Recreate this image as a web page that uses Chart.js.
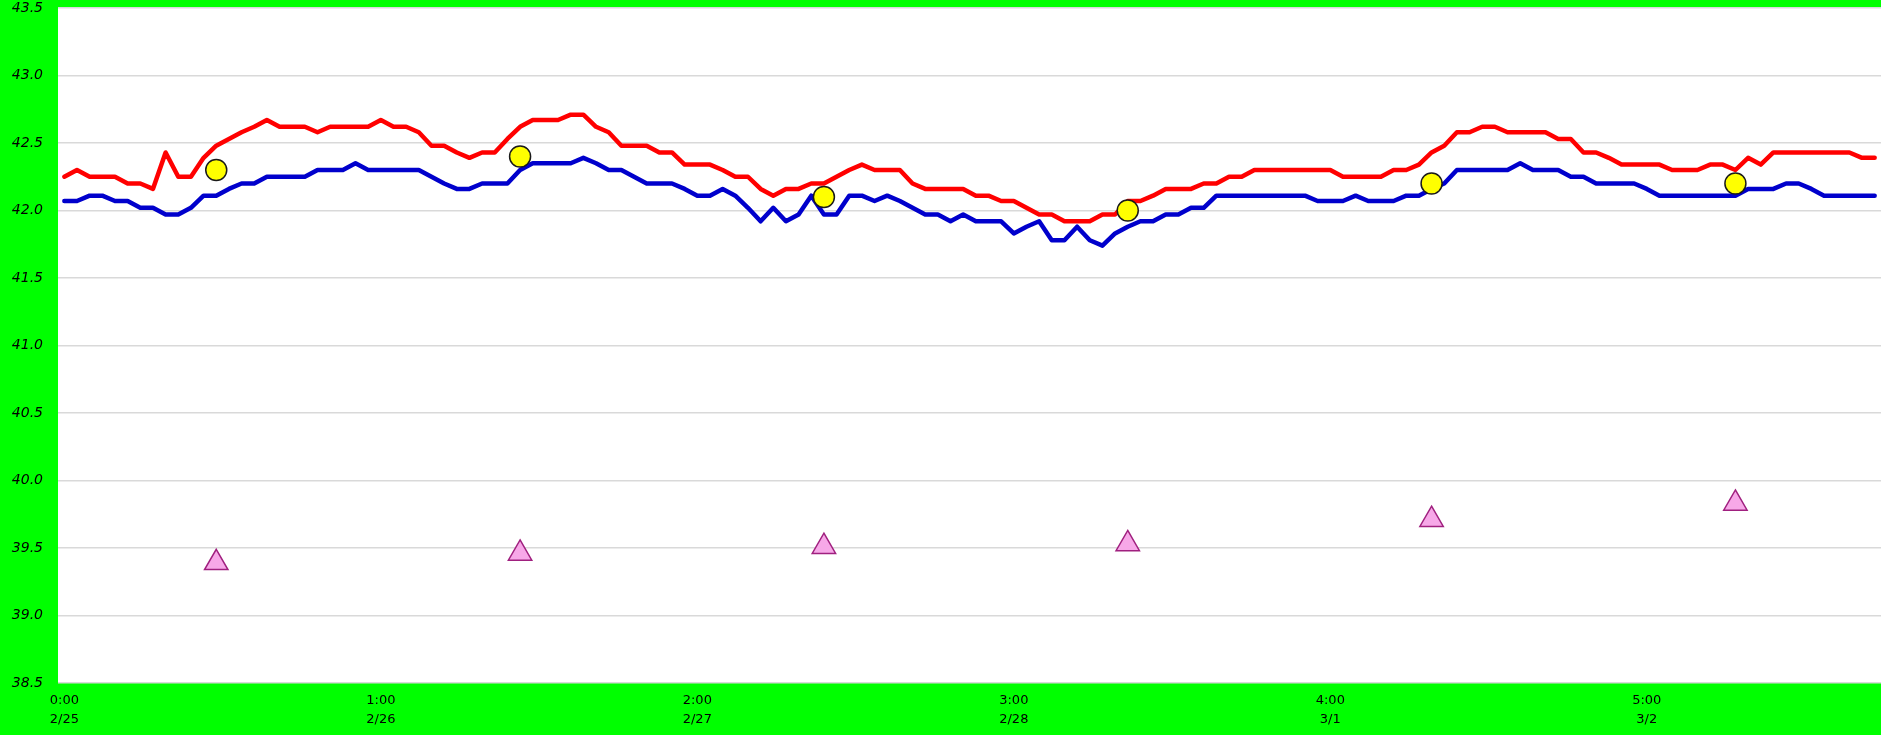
<!DOCTYPE html>
<html>
<head>
<meta charset="utf-8">
<script src="https://cdn.jsdelivr.net/npm/chart.js@4.4.1/dist/chart.umd.min.js"></script>
<style>
    html, body { margin: 0; padding: 0; background: #00FF00; overflow: hidden; }
    .chart-container { position: relative; width: 1881px; height: 735px; }
</style>
</head>
<body>
<div class="chart-container">
    <canvas id="tempChart"></canvas>
</div>
<script>
// Days and hourly categories (one point per hour, 6 days)
const days = ['2/25', '2/26', '2/27', '2/28', '3/1', '3/2'];
const categories = [];
days.forEach(day => {
    for (let h = 0; h < 24; h++) categories.push(h + ':00\n' + day);
});

// Red line (hourly)
const redSeries = [
    42.25, 42.30, 42.25, 42.25, 42.25, 42.20, 42.20, 42.16, 42.43, 42.25,
    42.25, 42.39, 42.48, 42.53, 42.58, 42.62, 42.67, 42.62, 42.62, 42.62,
    42.58, 42.62, 42.62, 42.62, 42.62, 42.67, 42.62, 42.62, 42.58, 42.48,
    42.48, 42.43, 42.39, 42.43, 42.43, 42.53, 42.62, 42.67, 42.67, 42.67,
    42.71, 42.71, 42.62, 42.58, 42.48, 42.48, 42.48, 42.43, 42.43, 42.34,
    42.34, 42.34, 42.30, 42.25, 42.25, 42.16, 42.11, 42.16, 42.16, 42.20,
    42.20, 42.25, 42.30, 42.34, 42.30, 42.30, 42.30, 42.20, 42.16, 42.16,
    42.16, 42.16, 42.11, 42.11, 42.07, 42.07, 42.02, 41.97, 41.97, 41.92,
    41.92, 41.92, 41.97, 41.97, 42.07, 42.07, 42.11, 42.16, 42.16, 42.16,
    42.20, 42.20, 42.25, 42.25, 42.30, 42.30, 42.30, 42.30, 42.30, 42.30,
    42.30, 42.25, 42.25, 42.25, 42.25, 42.30, 42.30, 42.34, 42.43, 42.48,
    42.58, 42.58, 42.62, 42.62, 42.58, 42.58, 42.58, 42.58, 42.53, 42.53,
    42.43, 42.43, 42.39, 42.34, 42.34, 42.34, 42.34, 42.30, 42.30, 42.30,
    42.34, 42.34, 42.30, 42.39, 42.34, 42.43, 42.43, 42.43, 42.43, 42.43,
    42.43, 42.43, 42.39, 42.39
];

// Blue line (hourly)
const blueSeries = [
    42.07, 42.07, 42.11, 42.11, 42.07, 42.07, 42.02, 42.02, 41.97, 41.97,
    42.02, 42.11, 42.11, 42.16, 42.20, 42.20, 42.25, 42.25, 42.25, 42.25,
    42.30, 42.30, 42.30, 42.35, 42.30, 42.30, 42.30, 42.30, 42.30, 42.25,
    42.20, 42.16, 42.16, 42.20, 42.20, 42.20, 42.30, 42.35, 42.35, 42.35,
    42.35, 42.39, 42.35, 42.30, 42.30, 42.25, 42.20, 42.20, 42.20, 42.16,
    42.11, 42.11, 42.16, 42.11, 42.02, 41.92, 42.02, 41.92, 41.97, 42.11,
    41.97, 41.97, 42.11, 42.11, 42.07, 42.11, 42.07, 42.02, 41.97, 41.97,
    41.92, 41.97, 41.92, 41.92, 41.92, 41.83, 41.88, 41.92, 41.78, 41.78,
    41.88, 41.78, 41.74, 41.83, 41.88, 41.92, 41.92, 41.97, 41.97, 42.02,
    42.02, 42.11, 42.11, 42.11, 42.11, 42.11, 42.11, 42.11, 42.11, 42.07,
    42.07, 42.07, 42.11, 42.07, 42.07, 42.07, 42.11, 42.11, 42.16, 42.20,
    42.30, 42.30, 42.30, 42.30, 42.30, 42.35, 42.30, 42.30, 42.30, 42.25,
    42.25, 42.20, 42.20, 42.20, 42.20, 42.16, 42.11, 42.11, 42.11, 42.11,
    42.11, 42.11, 42.11, 42.16, 42.16, 42.16, 42.20, 42.20, 42.16, 42.11,
    42.11, 42.11, 42.11, 42.11
];

// Daily noon readings
const noonIndex = [12, 36, 60, 84, 108, 132];
const circleValues = [42.30, 42.40, 42.10, 42.00, 42.20, 42.20];
const triangleValues = [39.39, 39.46, 39.51, 39.53, 39.71, 39.83];

// Y axis ticks
const yMin = 38.5;
const yMax = 43.5;
const yStep = 0.5;
const labelEvery = 25;

function sparse(values) {
    const arr = categories.map(() => null);
    noonIndex.forEach((idx, k) => { arr[idx] = values[k]; });
    return arr;
}

// Green page, white plot area
const backgroundPlugin = {
    id: 'background',
    beforeDraw(chart) {
        const { ctx, chartArea } = chart;
        ctx.save();
        ctx.fillStyle = '#00FF00';
        ctx.fillRect(0, 0, chart.width, chart.height);
        ctx.fillStyle = '#FFFFFF';
        ctx.fillRect(chartArea.left, chartArea.top, chartArea.right - chartArea.left, chartArea.bottom - chartArea.top);
        ctx.restore();
    }
};

const ctx = document.getElementById('tempChart').getContext('2d');
const tempChart = new Chart(ctx, {
    type: 'line',
    data: {
        labels: categories,
        datasets: [
            {
                label: 'Circle',
                data: sparse(circleValues),
                showLine: false,
                pointStyle: 'circle',
                pointRadius: 10.5,
                pointBackgroundColor: '#FFFF00',
                pointBorderColor: '#1a1a1a',
                pointBorderWidth: 1.5,
                order: 0
            },
            {
                label: 'Triangle',
                data: sparse(triangleValues),
                showLine: false,
                pointStyle: 'triangle',
                pointRadius: 13.5,
                pointBackgroundColor: '#F7A8E8',
                pointBorderColor: '#A0207F',
                pointBorderWidth: 1.5,
                order: 1
            },
            {
                label: 'Blue',
                data: blueSeries,
                borderColor: '#0000CC',
                borderWidth: 4.5,
                borderJoinStyle: 'round',
                borderCapStyle: 'round',
                pointRadius: 0,
                tension: 0,
                fill: false,
                order: 2
            },
            {
                label: 'Red',
                data: redSeries,
                borderColor: '#FF0000',
                borderWidth: 4.5,
                borderJoinStyle: 'round',
                borderCapStyle: 'round',
                pointRadius: 0,
                tension: 0,
                fill: false,
                order: 3
            }
        ]
    },
    options: {
        responsive: true,
        maintainAspectRatio: false,
        animation: false,
        devicePixelRatio: 1,
        layout: {
            autoPadding: false,
            padding: { top: 8, right: -3, bottom: 0, left: 0 }
        },
        plugins: {
            legend: { display: false },
            tooltip: { enabled: false }
        },
        scales: {
            x: {
                offset: true,
                grid: { display: false, drawTicks: false },
                border: { display: false },
                afterFit: function(scale) {
                    scale.height = 52;
                    scale.paddingLeft = 0;
                    scale.paddingRight = 0;
                },
                ticks: {
                    autoSkip: false,
                    maxRotation: 0,
                    minRotation: 0,
                    padding: 9,
                    color: '#000000',
                    font: { family: 'DejaVu Sans', size: 13, lineHeight: 1.4 },
                    callback: function(value, index) {
                        return index % labelEvery === 0 ? categories[index].split('\n') : '';
                    }
                }
            },
            y: {
                min: yMin,
                max: yMax,
                grid: {
                    color: '#D9D9D9',
                    lineWidth: 1.5,
                    drawTicks: true,
                    tickLength: 15,
                    tickColor: 'rgba(0,0,0,0)'
                },
                border: { display: false },
                afterFit: function(scale) {
                    scale.width = 58;
                    scale.paddingTop = 0;
                    scale.paddingBottom = 0;
                },
                ticks: {
                    stepSize: yStep,
                    padding: 0,
                    color: '#000000',
                    font: { family: 'DejaVu Sans', size: 14, style: 'italic' },
                    callback: function(value) {
                        return value.toFixed(1);
                    }
                }
            }
        }
    },
    plugins: [backgroundPlugin]
});
</script>
</body>
</html>
